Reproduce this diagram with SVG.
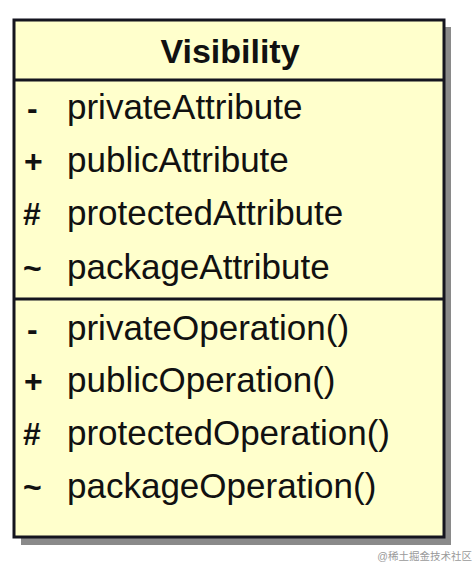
<svg xmlns="http://www.w3.org/2000/svg" width="476" height="567" viewBox="0 0 476 567">
<style>
.box{fill:#FFFFCC;stroke:#15151f;stroke-width:3}
.shadow{fill:#8a8a8a}
.div{stroke:#15151f;stroke-width:3}
.title{font-family:"Liberation Sans",Arial,sans-serif;font-size:34px;font-weight:bold;fill:#111;text-anchor:middle}
.item{font-family:"Liberation Sans",Arial,sans-serif;font-size:35px;fill:#111}
.sym{font-family:"Liberation Sans",Arial,sans-serif;font-size:32px;font-weight:bold;fill:#111}
.wm{font-family:"Liberation Sans","Noto Sans CJK SC",sans-serif;font-size:10.5px;fill:#9a9a9a;text-anchor:end}
</style>
<rect width="476" height="567" fill="#ffffff"/>
<g id="visibility-class">
<rect class="shadow" x="21" y="27" width="430" height="518"/>
<rect class="box" x="14" y="20" width="430" height="517"/>
<line class="div" x1="14" y1="80" x2="444" y2="80"/>
<line class="div" x1="14" y1="299" x2="444" y2="299"/>
<text class="title" x="230" y="63">Visibility</text>
<text class="sym" x="27" y="119">-</text>
<text class="item" x="67" y="119">privateAttribute</text>
<text class="sym" x="24" y="172">+</text>
<text class="item" x="67" y="172">publicAttribute</text>
<text class="sym" x="23" y="225">#</text>
<text class="item" x="67" y="225">protectedAttribute</text>
<text class="sym" x="23" y="279">~</text>
<text class="item" x="67" y="279">packageAttribute</text>
<text class="sym" x="27" y="340">-</text>
<text class="item" x="67" y="340">privateOperation()</text>
<text class="sym" x="24" y="392">+</text>
<text class="item" x="67" y="392">publicOperation()</text>
<text class="sym" x="23" y="445">#</text>
<text class="item" x="67" y="445">protectedOperation()</text>
<text class="sym" x="23" y="498">~</text>
<text class="item" x="67" y="498">packageOperation()</text>
</g>
<g id="connectors"></g>
<text class="wm" x="472" y="560">@稀土掘金技术社区</text>
</svg>
